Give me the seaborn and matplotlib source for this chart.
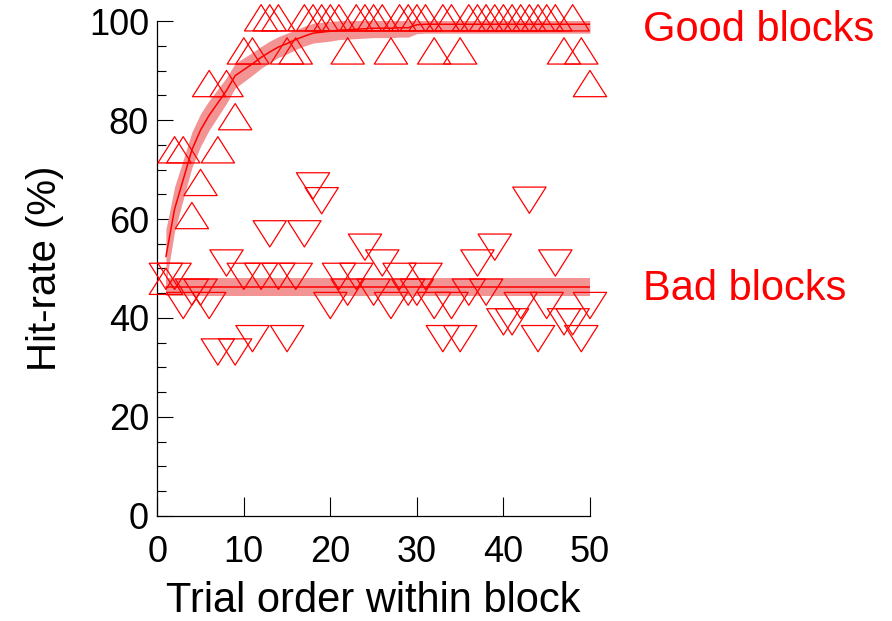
import numpy as np
import pandas as pd
import seaborn as sns
import matplotlib
matplotlib.use('Agg')
import matplotlib.pyplot as plt
from matplotlib.path import Path
from matplotlib.ticker import MultipleLocator

# ------------------------------------------------------------------
# data
# ------------------------------------------------------------------
trials = list(range(1, 51))

good_hits = [46.7, 73.3, 73.3, 60.0, 66.7, 86.7, 73.3, 86.7, 80.0, 93.3,
             93.3, 100, 100, 100, 93.3, 93.3, 100, 100, 100, 100,
             100, 93.3, 100, 100, 100, 100, 93.3, 100, 100, 100,
             100, 93.3, 100, 100, 93.3, 100, 100, 100, 100, 100,
             100, 100, 100, 100, 100, 100, 93.3, 100, 93.3, 86.7]

bad_hits = [47.7, 47.7, 41.8, 44.5, 44.5, 41.8, 32.4, 50.4, 32.4, 47.7,
            35.1, 47.7, 56.3, 47.7, 35.1, 47.7, 56.3, 66.0, 63.0, 41.8,
            47.7, 44.5, 47.7, 53.6, 44.5, 50.4, 41.8, 47.7, 44.5, 44.5,
            47.7, 41.8, 35.1, 41.8, 35.1, 44.5, 50.4, 44.5, 53.6, 38.5,
            38.5, 41.8, 63.1, 35.1, 41.8, 50.4, 38.5, 38.5, 35.1, 41.8]

# mean curve +- sem for good blocks
good_fit = [52.4, 62.0, 68.0, 74.0, 78.0, 81.0, 83.5, 86.0, 89.0, 90.2,
            91.4, 92.7, 93.8, 94.8, 95.5, 96.3, 97.0, 97.6, 97.8, 98.0,
            98.2, 98.3, 98.4, 98.5, 98.6, 98.6, 98.6, 98.7, 98.7, 99.3,
            99.4, 99.4, 99.4, 99.4, 99.4, 99.4, 99.4, 99.4, 99.4, 99.4,
            99.4, 99.4, 99.4, 99.4, 99.4, 99.4, 99.4, 99.4, 99.4, 99.4]
good_sem = [5.5, 4.5, 4.0, 3.6, 3.3, 3.0, 2.8, 2.6, 2.5, 2.4,
            2.3, 2.2, 2.2, 2.1, 2.1, 2.0, 2.0, 2.0, 2.0, 2.0,
            1.9, 1.9, 1.9, 1.9, 1.9, 1.9, 1.9, 1.9, 1.9, 1.8,
            1.8, 1.8, 1.8, 1.8, 1.8, 1.8, 1.8, 1.8, 1.8, 1.8,
            1.8, 1.8, 1.8, 1.8, 1.8, 1.8, 1.8, 1.8, 1.8, 1.8]

# bad blocks: flat level +- sem
bad_fit = 46.3
bad_sem = 1.85

df_good = pd.DataFrame({'trial': trials, 'hit': good_hits, 'fit': good_fit, 'sem': good_sem})
df_bad = pd.DataFrame({'trial': trials, 'hit': bad_hits})
df_bad['fit'] = bad_fit
df_bad['sem'] = bad_sem

# ------------------------------------------------------------------
# markers: open triangles, a bit wider than tall (matlab-ish)
# ------------------------------------------------------------------
h = 0.788
d = 0.21
up_tri = Path([(-1, -h + d), (1, -h + d), (0, h + d), (-1, -h + d)], closed=True)
down_tri = Path([(-1, h + d), (1, h + d), (0, -h + d), (-1, h + d)], closed=True)

sns.set_style('ticks')
plt.rcParams['font.family'] = ['Liberation Sans', 'DejaVu Sans']
plt.rcParams['text.color'] = 'black'
plt.rcParams['axes.labelcolor'] = 'black'

fig = plt.figure(figsize=(8.92, 6.21), dpi=100)
ax = fig.add_axes([0.1763, 0.1696, 0.4851, 0.7961])

band_col = '#f29494'
red = '#ff0000'

for df in (df_good, df_bad):
    ax.fill_between(df['trial'], df['fit'] - df['sem'], df['fit'] + df['sem'],
                    color=band_col, lw=0, zorder=1)

sns.scatterplot(data=df_good, x='trial', y='hit', marker=up_tri, s=24 ** 2,
                color=red, facecolor='none', edgecolor=red, linewidth=0.9,
                clip_on=False, zorder=3, ax=ax)
sns.scatterplot(data=df_bad, x='trial', y='hit', marker=down_tri, s=24 ** 2,
                color=red, facecolor='none', edgecolor=red, linewidth=0.9,
                clip_on=False, zorder=3, ax=ax)

sns.lineplot(data=df_good, x='trial', y='fit', color=red, lw=1.1, zorder=4, ax=ax)
sns.lineplot(data=df_bad, x='trial', y='fit', color=red, lw=1.1, zorder=4, ax=ax)

ax.set_xlim(0, 50)
ax.set_ylim(0, 100)
ax.set_xticks(range(0, 51, 10))
ax.set_yticks(range(0, 101, 20))
ax.yaxis.set_minor_locator(MultipleLocator(5))
ax.tick_params(axis='x', direction='in', length=14, width=0.8, pad=14,
               labelsize=26, colors='black')
ax.tick_params(axis='y', which='major', direction='in', length=11.5, width=0.8,
               pad=6, labelsize=26, colors='black')
ax.tick_params(axis='y', which='minor', direction='in', length=6.5, width=0.8,
               colors='black')
sns.despine(ax=ax)
for sp in ('left', 'bottom'):
    ax.spines[sp].set_color('black')
    ax.spines[sp].set_linewidth(0.9)

ax.set_xlabel('Trial order within block', fontsize=30, labelpad=8, color='black')
ax.set_ylabel('Hit-rate (%)', fontsize=29, labelpad=18, color='black')

ax.text(56.1, 98.3, 'Good blocks', color=red, fontsize=30, va='center',
        clip_on=False)
ax.text(56.1, 45.8, 'Bad blocks', color=red, fontsize=30, va='center',
        clip_on=False)

fig.savefig('out.png', dpi=100)
